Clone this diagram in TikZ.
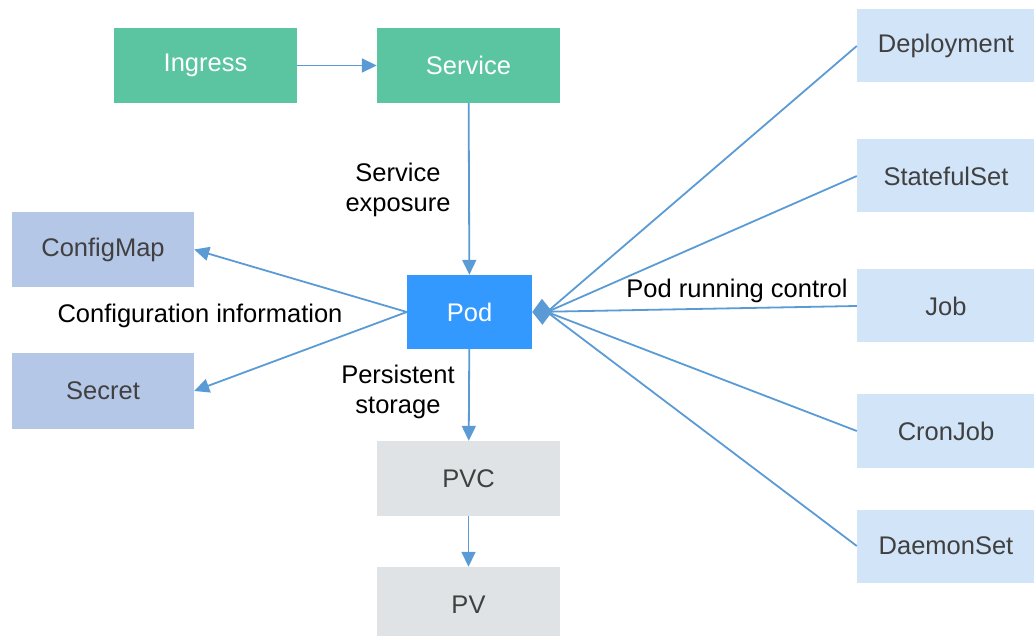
\documentclass[tikz,border=0pt]{standalone}
\usepackage{fontspec}
\setmainfont{Liberation Sans}
\usetikzlibrary{arrows.meta}
\definecolor{grn}{HTML}{5BC4A0}
\definecolor{podblue}{HTML}{3399FF}
\definecolor{cfgblue}{HTML}{B4C7E7}
\definecolor{ctlblue}{HTML}{D2E4F8}
\definecolor{gry}{HTML}{DFE3E6}
\definecolor{ln}{HTML}{5B9BD5}
\definecolor{dtxt}{HTML}{404040}
\tikzset{
  box/.style={draw=none, inner sep=0pt, minimum width=183pt, minimum height=75pt, font=\fontsize{25.5}{30}\selectfont},
  greenbox/.style={box, fill=grn, text=white},
  podbox/.style={box, fill=podblue, text=white, minimum width=125pt, minimum height=74pt},
  cfgbox/.style={box, fill=cfgblue, text=dtxt, minimum width=182pt},
  ctlbox/.style={box, fill=ctlblue, text=dtxt, minimum width=178pt, minimum height=73pt},
  grybox/.style={box, fill=gry, text=dtxt},
  lbl/.style={font=\fontsize{25.5}{30.5}\selectfont, text=black, align=center, inner sep=0pt},
  conn/.style={draw=ln, line width=1.8pt},
  arr/.style={conn, -{Triangle[length=15pt,width=14pt]}},
  darr/.style={conn, -{Diamond[length=20pt,width=26pt]}}
}
\begin{document}
\begin{tikzpicture}[x=1pt,y=-1pt]
\useasboundingbox (0,0) rectangle (1034,636);
\node[greenbox] (ingress) at (205.5,65.5) {Ingress};
\node[greenbox] (service) at (468.5,65.5) {Service};
\node[cfgbox] (configmap) at (103,249.5) {ConfigMap};
\node[cfgbox] (secret) at (103,391) {Secret};
\node[podbox] (pod) at (469.5,312) {Pod};
\node[grybox] (pvc) at (468.5,478.5) {PVC};
\node[grybox] (pv) at (468.5,604.5) {PV};
\node[ctlbox] (deploy) at (946,46) {Deployment};
\node[ctlbox] (sts) at (946,176) {StatefulSet};
\node[ctlbox] (job) at (946,306) {Job};
\node[ctlbox] (cron) at (946,431) {CronJob};
\node[ctlbox] (ds) at (946,546) {DaemonSet};
\coordinate (hub) at (547,312);

\node[lbl] (lsvc) at (398,190) {Service\\exposure};
\node[lbl] (lcfg) at (200,316) {Configuration information};
\node[lbl] (lper) at (398,392) {Persistent\\storage};
\node[lbl] (lrun) at (737,291) {Pod running control};

\draw[arr] (ingress) -- (service);
\draw[arr] (service) -- (pod);
\draw[arr] (pod.west) -- (configmap.east);
\draw[arr] (pod.west) -- (secret.east);
\draw[arr] (pod) -- (pvc);
\draw[arr] (pvc) -- (pv);
\draw[conn] (deploy.west) -- (hub);
\draw[conn] (sts.west) -- (hub);
\draw[conn] (cron.west) -- (hub);
\draw[conn] (ds.west) -- (hub);
\draw[darr] (job.west) -- (pod.east);
\end{tikzpicture}
\end{document}
